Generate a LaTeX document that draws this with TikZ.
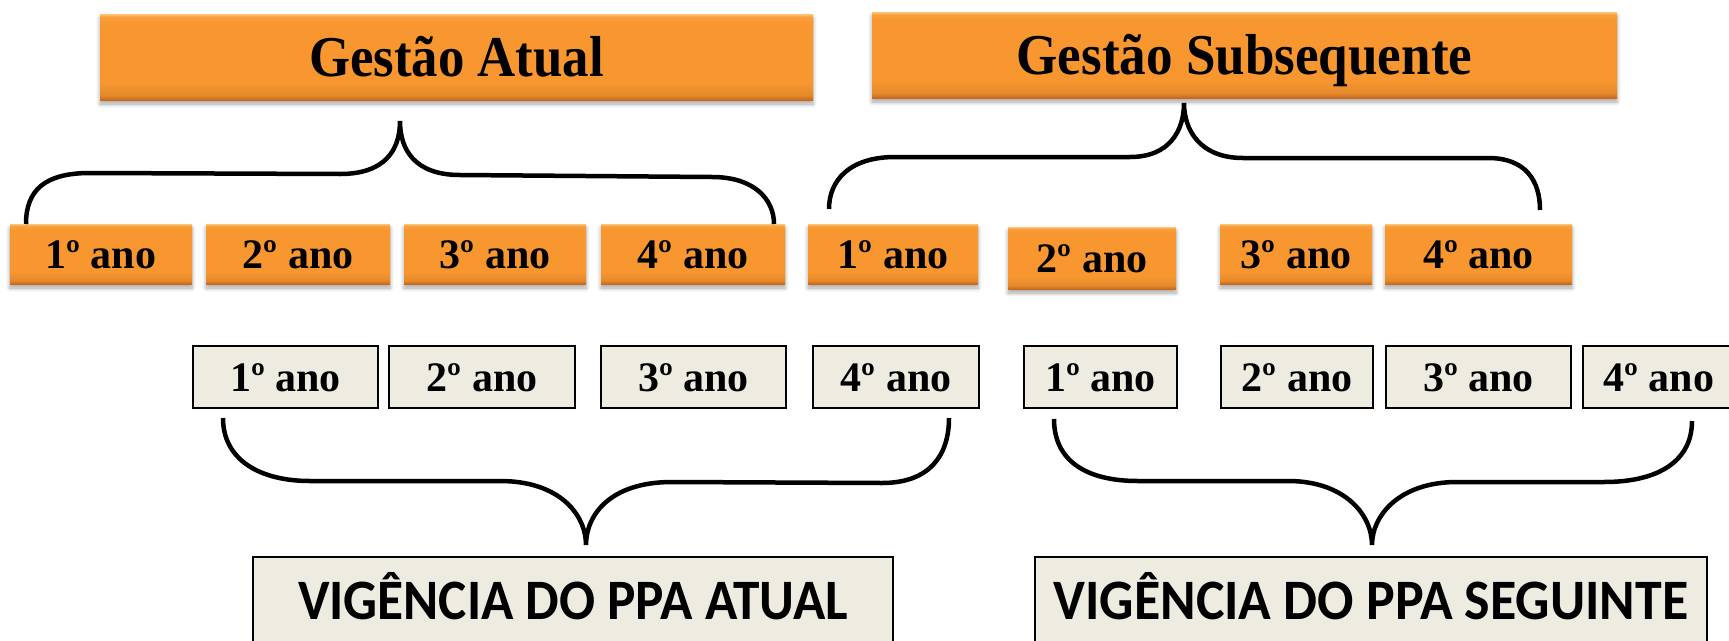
\documentclass[tikz,border=0pt]{standalone}
\usepackage{fontspec}
\usepackage{graphicx}
\setmainfont{Liberation Serif}
\newfontfamily\calib{Carlito}
\usetikzlibrary{shadows,shadows.blur}
\definecolor{ormain}{HTML}{F8962F}
\definecolor{orlight}{HTML}{FCC679}
\definecolor{ordark}{HTML}{C9691C}
\definecolor{beigefill}{HTML}{EEECE1}
\pgfdeclareverticalshading{orbevel}{100bp}{color(0bp)=(ordark); color(25bp)=(ordark); color(28bp)=(ormain!92!black); color(35bp)=(ormain); color(70bp)=(ormain); color(73.5bp)=(ormain!80!orlight); color(75bp)=(orlight); color(100bp)=(orlight)}
\tikzset{
  yearfont/.style={font=\bfseries\fontsize{42}{42}\selectfont, text height=28.4pt, text depth=0pt},
  obox/.style={shading=orbevel, draw=none, inner sep=0pt,
    blur shadow={shadow xshift=0pt, shadow yshift=-4pt, shadow blur steps=6, shadow blur radius=4pt, shadow opacity=35}},
  bbox/.style={fill=beigefill, draw=black, line width=2.5pt, inner sep=0pt},
  titlefont/.style={font=\bfseries\fontsize{55}{55}\selectfont, text height=38pt, text depth=0pt},
  vigfont/.style={font=\calib\bfseries\fontsize{55}{55}\selectfont},
  bracestyle/.style={draw=black, line width=4.5pt}
}
\newcommand\mybox[7]{\node[#1, minimum width={(#5-#3)*1pt}, minimum height={(#6-#4)*1pt}] (#2) at ({(#3+#5)/2},{(#4+#6)/2}) {#7};}
\begin{document}
\begin{tikzpicture}[x=1pt,y=-1pt]
\useasboundingbox (0,0) rectangle (1729,640);
% title boxes
\mybox{obox,titlefont}{gA}{100}{14}{813}{100}{\scalebox{0.96}[1.05]{Gestão Atual}}
\mybox{obox,titlefont}{gS}{872}{12}{1617}{98}{\scalebox{0.965}[1.05]{Gestão Subsequente}}
% orange year boxes
\mybox{obox,yearfont}{a1}{10}{224}{192}{284}{1º ano}
\mybox{obox,yearfont}{a2}{206}{224}{390}{284}{2º ano}
\mybox{obox,yearfont}{a3}{404}{224}{586}{284}{3º ano}
\mybox{obox,yearfont}{a4}{601}{224}{785}{284}{4º ano}
\mybox{obox,yearfont}{a5}{808}{224}{978}{284}{1º ano}
\mybox{obox,yearfont}{a6}{1008}{227}{1176}{289}{2º ano}
\mybox{obox,yearfont}{a7}{1220}{224}{1372}{284}{3º ano}
\mybox{obox,yearfont}{a8}{1385}{224}{1572}{284}{4º ano}
% beige year boxes
\mybox{bbox,yearfont}{b1}{193}{346}{378}{408}{1º ano}
\mybox{bbox,yearfont}{b2}{389}{346}{575}{408}{2º ano}
\mybox{bbox,yearfont}{b3}{601}{346}{786}{408}{3º ano}
\mybox{bbox,yearfont}{b4}{813}{346}{979}{408}{4º ano}
\mybox{bbox,yearfont}{b5}{1024}{346}{1177}{408}{1º ano}
\mybox{bbox,yearfont}{b6}{1221}{346}{1373}{408}{2º ano}
\mybox{bbox,yearfont}{b7}{1386}{346}{1571}{408}{3º ano}
\mybox{bbox,yearfont}{b8}{1583}{346}{1740}{408}{\hspace*{-5pt}4º ano}
% bottom boxes
\mybox{bbox}{v1}{253}{557}{893}{680}{}
\mybox{bbox}{v2}{1035}{557}{1707}{680}{}
\node[vigfont, anchor=base, inner sep=0pt] (t1) at (573,619) {\scalebox{0.97}[1.04]{VIGÊNCIA DO PPA ATUAL}};
\node[vigfont, anchor=base, inner sep=0pt] (t2) at (1371,619) {\scalebox{0.98}[1.04]{VIGÊNCIA DO PPA SEGUINTE}};
% brace coordinates
\coordinate (c1l) at (26,224); \coordinate (c1t) at (400,121); \coordinate (c1r) at (774,224);
\coordinate (c2l) at (829,209); \coordinate (c2t) at (1184,103); \coordinate (c2r) at (1540,210);
\coordinate (c3l) at (223,418); \coordinate (c3t) at (586,545); \coordinate (c3r) at (949,418);
\coordinate (c4l) at (1054,419); \coordinate (c4t) at (1372,545); \coordinate (c4r) at (1692,421);
% top-left brace
\draw[bracestyle] (c1l) .. controls (26,190) and (45,173) .. (90,173) -- (340,174)
  .. controls (385,174) and (400,150) .. (c1t)
  .. controls (400,150) and (415,175) .. (460,175) -- (712,177)
  .. controls (755,177) and (774,200) .. (c1r);
% top-right brace
\draw[bracestyle] (c2l) .. controls (829,180) and (850,157) .. (895,157) -- (1130,157)
  .. controls (1170,157) and (1184,130) .. (c2t)
  .. controls (1184,130) and (1200,158) .. (1243,158) -- (1488,158)
  .. controls (1525,158) and (1540,180) .. (c2r);
% bottom-left brace
\draw[bracestyle] (c3l) .. controls (223,460) and (260,481) .. (310,481) -- (500,481)
  .. controls (560,481) and (586,515) .. (c3t)
  .. controls (586,515) and (610,482) .. (672,482) -- (882,483)
  .. controls (930,483) and (949,455) .. (c3r);
% bottom-right brace
\draw[bracestyle] (c4l) .. controls (1054,460) and (1085,481) .. (1138,481) -- (1288,481)
  .. controls (1345,481) and (1372,515) .. (c4t)
  .. controls (1372,515) and (1400,482) .. (1457,482) -- (1604,482)
  .. controls (1660,482) and (1692,460) .. (c4r);
\end{tikzpicture}
\end{document}
